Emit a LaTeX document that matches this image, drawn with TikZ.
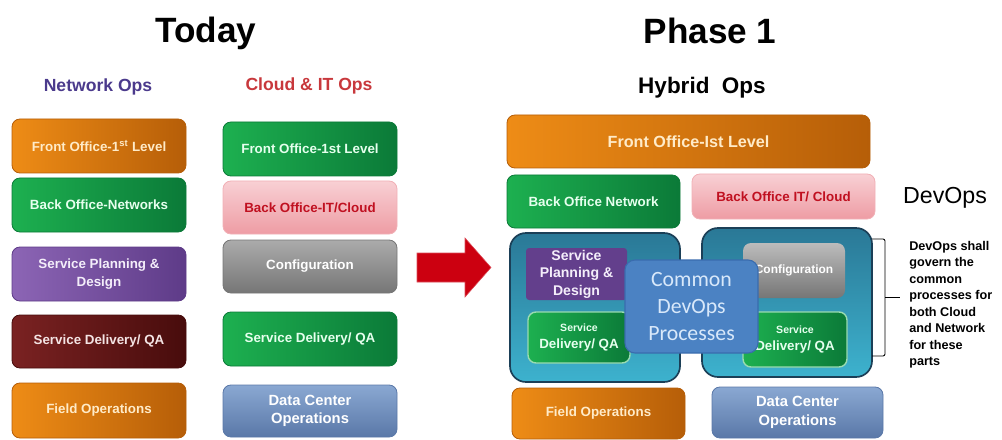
\documentclass[tikz,border=0pt]{standalone}
\usepackage{fontspec}
\setmainfont{Liberation Sans}
\newfontfamily\carl{Carlito}

\definecolor{orL}{HTML}{EE8C16}\definecolor{orD}{HTML}{B65E08}\definecolor{orT}{HTML}{FFEBC8}
\definecolor{grL}{HTML}{1DB050}\definecolor{grD}{HTML}{0B7A38}\definecolor{grT}{HTML}{E6FFEE}
\definecolor{pkL}{HTML}{F8D0D4}\definecolor{pkD}{HTML}{EE9CA4}\definecolor{pkT}{HTML}{C01020}
\definecolor{gyL}{HTML}{ABABAB}\definecolor{gyD}{HTML}{767676}
\definecolor{puL}{HTML}{8C65B5}\definecolor{puD}{HTML}{5E3B88}\definecolor{puT}{HTML}{F4EEFA}
\definecolor{drL}{HTML}{7A2222}\definecolor{drD}{HTML}{480C0C}\definecolor{drT}{HTML}{F4E4E4}
\definecolor{blL}{HTML}{8AA8D2}\definecolor{blD}{HTML}{5A78A8}
\definecolor{tlT}{HTML}{2A7896}\definecolor{tlB}{HTML}{3DB2CE}\definecolor{tlE}{HTML}{1B3F57}
\definecolor{cmF}{HTML}{4B82C3}\definecolor{cmE}{HTML}{3A6CAE}\definecolor{cmT}{HTML}{D8E8FA}
\definecolor{netOps}{HTML}{4B3A8C}\definecolor{cloudOps}{HTML}{C8383C}
\definecolor{arrowRed}{HTML}{CC0010}

\begin{document}
\begin{tikzpicture}[x=0.025cm,y=-0.025cm,
  sz/.style 2 args={minimum width=#1*0.025cm,minimum height=#2*0.025cm},
  box/.style={rounded corners=0.2cm,inner sep=0pt,align=center,line width=0.6pt,
    font=\fontsize{9.5}{12.5}\selectfont\bfseries},
  orbox/.style={box,left color=orL,right color=orD,draw=orD,text=orT},
  grbox/.style={box,left color=grL,right color=grD,draw=grD,text=grT},
  pkbox/.style={box,top color=pkL,bottom color=pkD,draw=pkD!80!white,text=pkT},
  gybox/.style={box,top color=gyL,bottom color=gyD,draw=gyD,text=white},
  pubox/.style={box,left color=puL,right color=puD,draw=puD,text=puT},
  drbox/.style={box,left color=drL,right color=drD,draw=drD,text=drT},
  blbox/.style={box,top color=blL,bottom color=blD,draw=blD,text=white},
  container/.style={rounded corners=0.4cm,inner sep=0pt,top color=tlT,bottom color=tlB,
    draw=tlE,line width=1.2pt},
  title/.style={font=\fontsize{25}{30}\selectfont\bfseries},
  subtitle/.style={font=\fontsize{12.5}{15}\selectfont\bfseries},
]
\useasboundingbox (0,0) rectangle (1002,440);

% ---- headings ----
\node[title] (today) at (206,33) {Today};
\node[title] (phase) at (710,31) {Phase 1};
\node[subtitle,text=netOps] (netops) at (98,87) {Network Ops};
\node[subtitle,text=cloudOps] (cloudops) at (309,86) {Cloud \& IT Ops};
\node[font=\fontsize{16}{19}\selectfont\bfseries] (hybrid) at (702,88) {Hybrid\ \ Ops};

% ---- today: network ops ----
\node[orbox,sz={174}{54}] (nFront) at (99,146) {Front Office-1\textsuperscript{st} Level};
\node[grbox,sz={174}{54}] (nBack) at (99,205) {Back Office-Networks};
\node[pubox,sz={174}{54}] (nPlan) at (99,274) {Service Planning \&\\Design};
\node[drbox,sz={174}{53}] (nDeliv) at (99,341.5) {Service Delivery/ QA};
\node[orbox,sz={174}{55}] (nField) at (99,410.5) {Field Operations};

% ---- today: cloud & IT ops ----
\node[grbox,sz={174}{54}] (cFront) at (310,149) {Front Office-1st Level};
\node[pkbox,sz={174}{53}] (cBack) at (310,207.5) {Back Office-IT/Cloud};
\node[gybox,sz={174}{53}] (cConf) at (310,266.5) {Configuration};
\node[grbox,sz={174}{54}] (cDeliv) at (310,339) {Service Delivery/ QA};
\node[blbox,sz={174}{52},font=\fontsize{10.5}{13}\selectfont\bfseries] (cData) at (310,411) {Data Center\\Operations};

% ---- transition arrow (block arrow shape) ----
\fill[arrowRed,draw=arrowRed!70!white,line width=0.4pt]
  (417,253) -- (465,253) -- (465,238) -- (491,267.5) -- (465,297) -- (465,282) -- (417,282) -- cycle;

% ---- phase 1: hybrid ops ----
\node[orbox,sz={363}{53},font=\fontsize{11.5}{14}\selectfont\bfseries] (hFront) at (688.5,141.5) {Front Office-Ist Level};
\node[grbox,sz={173}{53}] (hBackN) at (593.5,201.5) {Back Office Network};
\node[pkbox,sz={183}{45}] (hBackC) at (783.5,196.5) {Back Office IT/ Cloud};

\node[container,sz={170}{149}] (netCont) at (595,307.5) {};
\node[container,sz={170}{149}] (cloudCont) at (787,302.5) {};

\node[box,rounded corners=0.08cm,fill=puD!90!puL,draw=none,text=puT,sz={101}{52},
  font=\fontsize{10}{12.5}\selectfont\bfseries] (hPlan) at (576.5,274) {Service\\Planning \&\\Design};
\node[box,left color=grL,right color=grD,draw=grL!45!white,line width=1pt,text=grT,sz={102}{51},
  font=\fontsize{9.5}{12}\selectfont\bfseries] (hDelivN) at (579,337.5)
  {{\fontsize{7.5}{9}\selectfont Service}\\Delivery/ QA};
\node[box,top color=gyL!80!white,bottom color=gyD,draw=none,text=white,sz={102}{55},
  font=\fontsize{8.5}{10}\selectfont\bfseries] (hConf) at (794,270.5) {Configuration};
\node[box,left color=grL,right color=grD,draw=grL!45!white,line width=1pt,text=grT,sz={104}{55},
  font=\fontsize{9.5}{12}\selectfont\bfseries] (hDelivC) at (795,339.5)
  {{\fontsize{7.5}{9}\selectfont Service}\\Delivery/\ QA};

\node[box,rounded corners=0.25cm,fill=cmF,draw=cmE,line width=0.8pt,text=cmT,sz={133}{93},
  font=\carl\fontsize{15.5}{19.5}\selectfont] (common) at (691.5,306.5) {Common\\DevOps\\Processes};

\node[orbox,sz={173}{51}] (hField) at (598.5,413.5) {Field Operations};
\node[blbox,sz={171}{51},font=\fontsize{10.5}{13}\selectfont\bfseries] (hData) at (797.5,412.5) {Data Center\\Operations};

% ---- devops note and brace ----
\node[font=\fontsize{16.5}{20}\selectfont] (devops) at (945,198) {DevOps};
\coordinate (braceTop) at (872,239);
\coordinate (braceBot) at (872,356);
\coordinate (braceMid) at (885,297);
\coordinate (braceTip) at (900,297);
\draw[line width=0.6pt,rounded corners=0.05cm] (braceTop) -| (braceMid) |- (braceBot);
\draw[line width=0.6pt] (braceMid) -- (braceTip);
\node[anchor=north west,align=left,inner sep=0pt,font=\fontsize{9}{11.7}\selectfont\bfseries]
  (note) at (909,241) {DevOps shall\\govern the\\common\\processes for\\both Cloud\\and Network\\for these\\parts};
\end{tikzpicture}
\end{document}
